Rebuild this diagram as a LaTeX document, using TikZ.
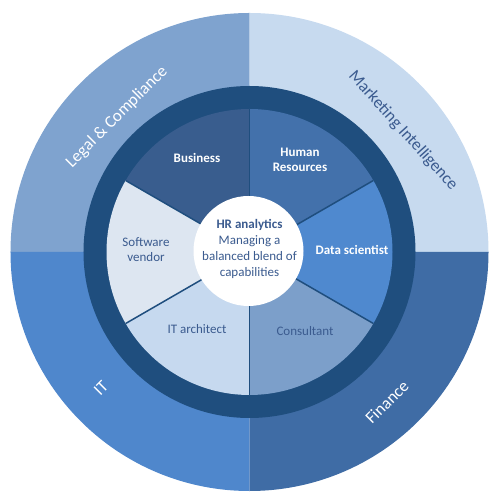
\documentclass[tikz,border=0pt]{standalone}
\usepackage{fontspec}
\setmainfont{Carlito}
\usetikzlibrary{positioning}

\definecolor{ringblue}{HTML}{1F4E7E}
\definecolor{textblue}{HTML}{3B5B8F}
\definecolor{legalblue}{HTML}{7FA3CF}
\definecolor{marketblue}{HTML}{C7DAEF}
\definecolor{itblue}{HTML}{4F87CC}
\definecolor{financeblue}{HTML}{3F6CA5}
\definecolor{businessblue}{HTML}{395D8E}
\definecolor{hrblue}{HTML}{4371AB}
\definecolor{datablue}{HTML}{4F89CF}
\definecolor{consultblue}{HTML}{7C9FCA}
\definecolor{archblue}{HTML}{C6D9EF}
\definecolor{vendorblue}{HTML}{DDE6F1}

\begin{document}
\begin{tikzpicture}[x=1pt,y=1pt,align=center,
  outer label/.style={text=white,font=\fontsize{17}{20}\selectfont},
  dark label/.style={text=white,font=\fontsize{13}{15}\selectfont\bfseries},
  light label/.style={text=textblue,font=\fontsize{13}{15}\selectfont},
  hub label/.style={text=textblue,font=\fontsize{13}{16}\selectfont}]
  \useasboundingbox (-249.5,-250) rectangle (251.5,252);

  % outer quadrants
  \fill[legalblue]   (0,0) -- (90:239)  arc (90:180:239)  -- cycle;
  \fill[marketblue]  (0,0) -- (0:239)   arc (0:90:239)    -- cycle;
  \fill[itblue]      (0,0) -- (180:239) arc (180:270:239) -- cycle;
  \fill[financeblue] (0,0) -- (270:239) arc (270:360:239) -- cycle;

  % ring and capability sectors
  \fill[ringblue] (0,0) circle (166);
  \fill[businessblue] (0,0) -- (90:143)  arc (90:150:143)  -- cycle;
  \fill[hrblue]       (0,0) -- (30:143)  arc (30:90:143)   -- cycle;
  \fill[datablue]     (0,0) -- (-30:143) arc (-30:30:143)  -- cycle;
  \fill[consultblue]  (0,0) -- (-90:143) arc (-90:-30:143) -- cycle;
  \fill[archblue]     (0,0) -- (210:143) arc (210:270:143) -- cycle;
  \fill[vendorblue]   (0,0) -- (150:143) arc (150:210:143) -- cycle;
  \foreach \a in {30,90,...,330}
    \draw[ringblue,line width=1.5pt] (0,0) -- (\a:143);
  \fill[white] (-1,1) circle (55);

  % labels
  \node[outer label, rotate=45]  (legal)   at (-132.5,135)  {Legal \& Compliance};
  \node[outer label, rotate=-48, text=textblue] (market) at (153.5,121) {Marketing Intelligence};
  \node[outer label, rotate=45]  (it)      at (-148.5,-136) {IT};
  \node[outer label, rotate=45]  (finance) at (137.5,-150)  {Finance};

  \node[dark label]  (business) at (-52.5,94)  {Business};
  \node[dark label]  (hr)       at (50.5,92)   {Human\\Resources};
  \node[dark label]  (data)     at (102.5,2)   {Data scientist};
  \node[light label] (consult)  at (55.5,-79)  {Consultant};
  \node[light label] (arch)     at (-52.5,-77) {IT architect};
  \node[light label] (vendor)   at (-103.5,2)  {Software\\vendor};

  \node[hub label] (hub) at (0,3) {\textbf{HR analytics}\\Managing a\\balanced blend of\\capabilities};
\end{tikzpicture}
\end{document}
